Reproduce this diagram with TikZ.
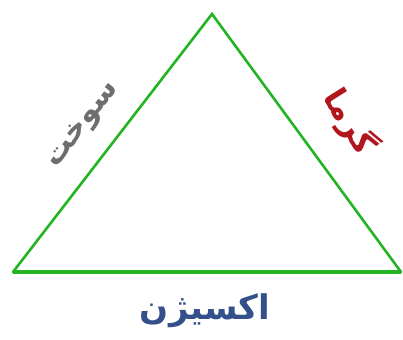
\documentclass[tikz,border=0pt]{standalone}
\usepackage{fontspec}
\newfontfamily\arabicfont[Script=Arabic]{DejaVu Sans}
\TeXXeTstate=1
\definecolor{tgreen}{HTML}{22B422}
\definecolor{tgray}{HTML}{6E6E6E}
\definecolor{tred}{HTML}{B0161C}
\definecolor{tblue}{HTML}{34508A}
\begin{document}
\begin{tikzpicture}[x=1pt,y=-1pt,
  side/.style={draw=tgreen,line width=2.6pt,line cap=round},
  lbl/.style={inner sep=0pt}]
\useasboundingbox (0,0) rectangle (403,339);
\coordinate (A) at (212,14);
\coordinate (L) at (13,272);
\coordinate (R) at (401,272);
\draw[side] (L) -- (A) -- (R);
\draw[draw=tgreen,line width=4pt] (L) -- (R);
\node[lbl,text=tgray,rotate=52,font=\arabicfont\bfseries\fontsize{30}{32}\selectfont] (fuel) at (84,126) {\beginR سوخت\endR};
\node[lbl,text=tred,rotate=-58,font=\arabicfont\bfseries\fontsize{32}{34}\selectfont] (heat) at (350,122) {\beginR گرما\endR};
\node[lbl,text=tblue,font=\arabicfont\bfseries\fontsize{34}{36}\selectfont] (oxy) at (205,311) {\beginR اکسیژن\endR};
\end{tikzpicture}
\end{document}
